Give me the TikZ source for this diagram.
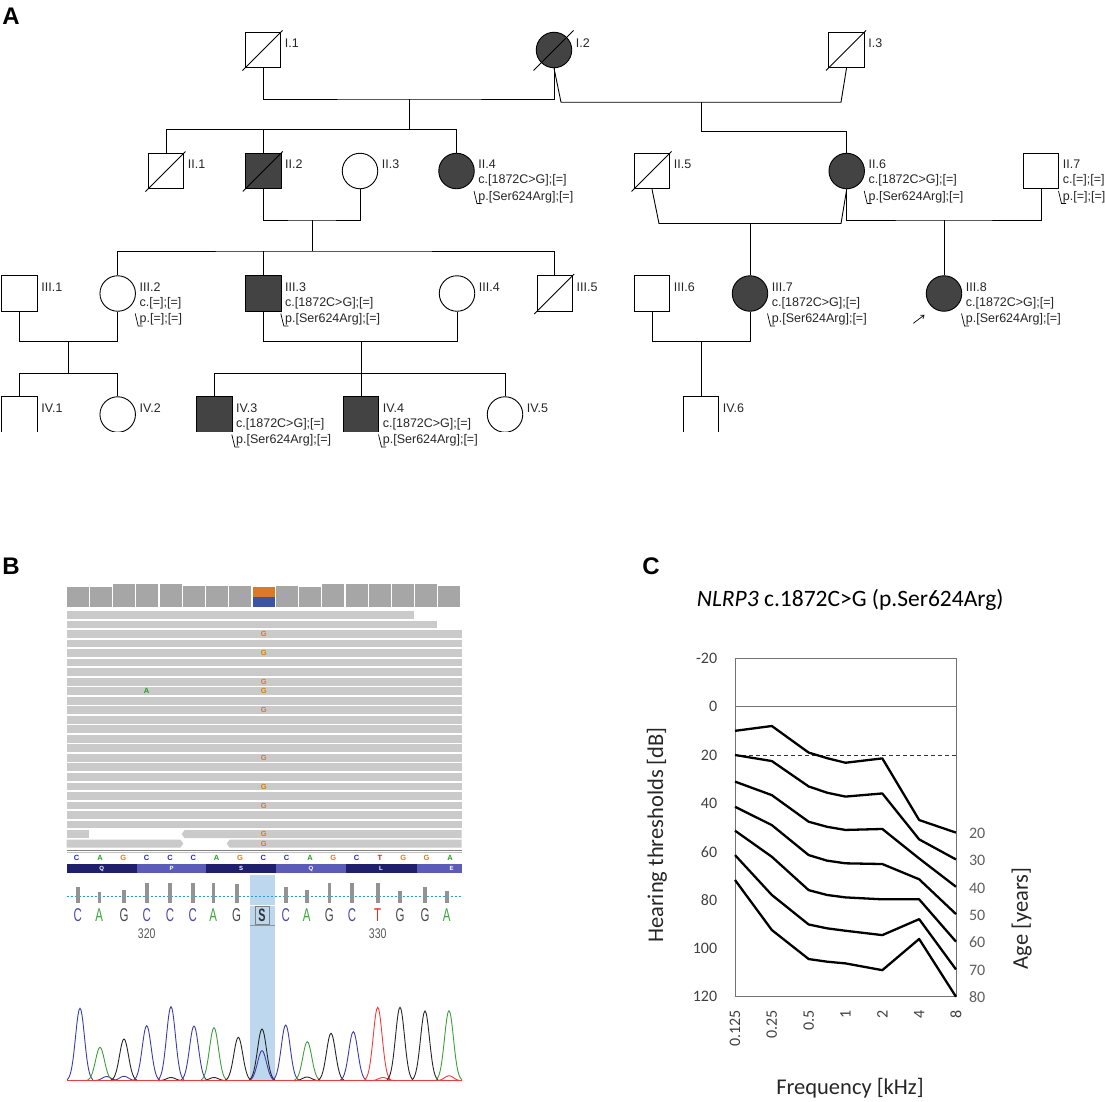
\documentclass[tikz,border=0pt]{standalone}
\usepackage{fontspec}
\usepackage{graphicx}
\setmainfont{Liberation Sans}
\newfontfamily\calibri{Carlito}
\usetikzlibrary{calc,arrows.meta}

\definecolor{affgray}{HTML}{434343}
\definecolor{pedtext}{HTML}{262626}
\definecolor{covgray}{HTML}{A6A6A6}
\definecolor{readgray}{HTML}{CACACA}
\definecolor{igvorange}{HTML}{D97A2B}
\definecolor{igvblue}{HTML}{3B55A6}
\definecolor{basec}{HTML}{2A2AC0}
\definecolor{basea}{HTML}{22A022}
\definecolor{baseg}{HTML}{D07F1E}
\definecolor{baset}{HTML}{E01414}
\definecolor{aadark}{HTML}{1F1F6C}
\definecolor{aamid}{HTML}{5C5CB8}
\definecolor{hlblue}{HTML}{BDD7EF}
\definecolor{sc}{HTML}{4B4BA8}
\definecolor{sa}{HTML}{3AA83A}
\definecolor{sg}{HTML}{4A4A4A}
\definecolor{st}{HTML}{E62828}
\definecolor{pkblue}{HTML}{3C3CA8}
\definecolor{pkgreen}{HTML}{3CA03C}
\definecolor{pkblack}{HTML}{262626}
\definecolor{pkred}{HTML}{F03C3C}
\definecolor{ticktext}{HTML}{404040}
\definecolor{agetext}{HTML}{5E5E5E}

\tikzset{
  male/.style={draw, rectangle, minimum size=35.5pt, inner sep=0pt, line width=0.9pt},
  female/.style={draw, circle, minimum size=35.5pt, inner sep=0pt, line width=0.9pt},
  aff/.style={fill=affgray},
  pedtxt/.style={anchor=west, inner sep=0pt, text=pedtext, font=\fontsize{12.5}{14}\selectfont},
  leader/.style={line width=0.7pt},
  panel/.style={inner sep=0pt, font=\fontsize{24}{24}\selectfont\bfseries},
  readbase/.style={inner sep=0pt, font=\fontsize{7.5}{7.5}\selectfont\bfseries},
  sangerbase/.style={inner sep=0pt, font=\fontsize{18.5}{18.5}\selectfont},
  audio/.style={black, line width=2.3pt, line join=round},
  tick/.style={inner sep=0pt, text=ticktext, font=\calibri\fontsize{16}{16}\selectfont},
  axistitle/.style={inner sep=0pt, text=black!85, font=\calibri\fontsize{22.5}{22.5}\selectfont},
}

\newcommand{\pedname}[2]{\node[pedtxt] (#1l) at ($(#1.east)+(3.5,-6.5)$) {#2};}
\newcommand{\pedgeno}[3]{%
  \node[pedtxt] (#1c) at ($(#1.east)+(3.5,9.7)$) {#2};
  \node[pedtxt] (#1p) at ($(#1.east)+(3.5,26)$) {#3};
  \draw[leader] ($(#1.center)+(17.5,20)$) -- ++(3,12.5) -- ++(4.5,0);}
\newcommand{\peak}[3]{\draw[#3, line width=0.9pt] plot[domain=-13:13, samples=27, smooth] ({#1+\x}, {1080.7-(1080.7-#2)*exp(0-(\x)*(\x)/40)});}

\begin{document}
\begin{tikzpicture}[x=1pt, y=-1pt]
\useasboundingbox (0,0) rectangle (1105,1101);

\node[panel] (lblA) at (11,16.5) {A};
\node[panel] (lblB) at (11,566) {B};
\node[panel] (lblC) at (651,566) {C};

% generation I
\node[male] (i1) at (263,50) {};
\node[female, aff] (i2) at (554,50) {};
\node[male] (i3) at (846.5,50) {};
% generation II
\node[male] (ii1) at (166,171) {};
\node[male, aff] (ii2) at (263.3,171) {};
\node[female] (ii3) at (360,171) {};
\node[female, aff] (ii4) at (456.5,171) {};
\node[male] (ii5) at (652,171) {};
\node[female, aff] (ii6) at (846.7,171) {};
\node[male] (ii7) at (1041,171) {};
% generation III
\node[male] (iii1) at (19.5,293.5) {};
\node[female] (iii2) at (117.7,293.5) {};
\node[male, aff] (iii3) at (263.3,293.5) {};
\node[female] (iii4) at (457,293.5) {};
\node[male] (iii5) at (554.7,293.5) {};
\node[male] (iii6) at (652,293.5) {};
\node[female, aff] (iii7) at (750,293.5) {};
\node[female, aff] (iii8) at (944,293.5) {};
% generation IV, bottom edge cut off
\begin{scope}
  \clip (-5,380) rectangle (1110,431.4);
  \node[male] (iv1) at (19.5,414.5) {};
  \node[female] (iv2) at (117.7,414.5) {};
  \node[male, aff] (iv3) at (214.3,414.5) {};
  \node[male, aff] (iv4) at (361,414.5) {};
  \node[female] (iv5) at (505,414.5) {};
  \node[male] (iv6) at (701,414.5) {};
\end{scope}

% deceased
\foreach \n in {i1,i2,i3,ii1,ii2,ii5,iii5}
  \draw[line width=0.8pt] ($(\n.center)+(-20.5,20.5)$) -- ($(\n.center)+(19.5,-19.5)$);

\begin{scope}[line width=0.9pt]
  \coordinate (m1) at (409.6,99);
  \coordinate (s1) at (409.6,129.3);
  \draw (i1.south) |- (m1) -- (i2.south |- m1) -- (i2.south);
  \draw (m1) -- (s1);
  \draw (ii1.north) |- (s1) -- (ii4.north |- s1) -- (ii4.north);
  \draw (ii2.north) -- (ii2.north |- s1);

  \coordinate (m2) at (701.4,101.75);
  \draw (i2.south) -- ($(i2.south)+(7,34)$) -- ($(i3.south)+(-5.5,34)$) -- (i3.south);
  \draw (m2) -- ++(0,30) -| (ii6.north);

  \coordinate (m3) at (312,220);
  \coordinate (s3) at (312,251);
  \draw (ii2.south) |- (m3) -| (ii3.south);
  \draw (m3) -- (s3);
  \draw (iii2.north) |- (s3) -- (iii5.north |- s3) -- (iii5.north);
  \draw (iii3.north) -- (iii3.north |- s3);

  \coordinate (m4) at (750,223);
  \draw (ii5.south) -- ($(ii5.south)+(7,34.3)$) -- ($(ii6.south)+(-5.7,34.3)$) -- (ii6.south);
  \draw (m4) -- (iii7.north);

  \coordinate (m5) at (944,220);
  \draw (ii6.south) |- (m5) -| (ii7.south);
  \draw (m5) -- (iii8.north);

  \coordinate (m6) at (68.9,341.7);
  \coordinate (s6) at (68.9,373.3);
  \draw (iii1.south) |- (m6) -| (iii2.south);
  \draw (m6) -- (s6);
  \draw (iv1.north) |- (s6) -| (iv2.north);

  \coordinate (m7) at (361,341.7);
  \coordinate (s7) at (361,373.3);
  \draw (iii3.south) |- (m7) -| (iii4.south);
  \draw (m7) -- (s7);
  \draw (iv3.north) |- (s7) -| (iv5.north);
  \draw (iv4.north) -- (s7);

  \coordinate (m8) at (701,341.7);
  \draw (iii6.south) |- (m8) -| (iii7.south);
  \draw (m8) -- (iv6.north);
\end{scope}

% names and genotypes
\pedname{i1}{I.1} \pedname{i2}{I.2} \pedname{i3}{I.3}
\pedname{ii1}{II.1} \pedname{ii2}{II.2} \pedname{ii3}{II.3} \pedname{ii4}{II.4}
\pedname{ii5}{II.5} \pedname{ii6}{II.6} \pedname{ii7}{II.7}
\pedname{iii1}{III.1} \pedname{iii2}{III.2} \pedname{iii3}{III.3} \pedname{iii4}{III.4}
\pedname{iii5}{III.5} \pedname{iii6}{III.6} \pedname{iii7}{III.7} \pedname{iii8}{III.8}
\pedname{iv1}{IV.1} \pedname{iv2}{IV.2} \pedname{iv3}{IV.3} \pedname{iv4}{IV.4}
\pedname{iv5}{IV.5} \pedname{iv6}{IV.6}
\pedgeno{ii4}{c.[1872C>G];[=]}{p.[Ser624Arg];[=]}
\pedgeno{ii6}{c.[1872C>G];[=]}{p.[Ser624Arg];[=]}
\pedgeno{ii7}{c.[=];[=]}{p.[=];[=]}
\pedgeno{iii2}{c.[=];[=]}{p.[=];[=]}
\pedgeno{iii3}{c.[1872C>G];[=]}{p.[Ser624Arg];[=]}
\pedgeno{iii7}{c.[1872C>G];[=]}{p.[Ser624Arg];[=]}
\pedgeno{iii8}{c.[1872C>G];[=]}{p.[Ser624Arg];[=]}
\pedgeno{iv3}{c.[1872C>G];[=]}{p.[Ser624Arg];[=]}
\pedgeno{iv4}{c.[1872C>G];[=]}{p.[Ser624Arg];[=]}

% proband
\coordinate (pbtail) at ($(iii8.center)+(-30.7,29.8)$);
\coordinate (pbhead) at ($(iii8.center)+(-19.5,21.3)$);
\draw[line width=0.7pt, -{Straight Barb[length=3pt, width=4.5pt]}] (pbtail) -- (pbhead);

% B: coverage track
\foreach \i/\t in {0/586.7,1/586.7,2/584.3,3/584.3,4/584.3,5/585.7,6/585.7,7/586,9/586.3,10/586.7,11/584.3,12/584.3,13/584.3,14/584.3,15/584.3,16/585.7}
  \fill[covgray] ({66.7+23.235*\i},\t) rectangle ({66.7+23.235*\i+22},607.3);
\fill[igvorange] (252.6,586.7) rectangle (274.6,596.7);
\fill[igvblue] (252.6,596.7) rectangle (274.6,607.3);

% B: reads
\fill[readgray] (66.7,611) rectangle (414.3,618.8);
\fill[readgray] (66.7,620.5) rectangle (437.3,628.3);
\foreach \k in {2,...,22}
  \fill[readgray] (66.7,{611+9.53*\k}) rectangle (461.7,{618.8+9.53*\k});
\fill[readgray] (66.7,830.2) rectangle (89.3,838);
\fill[readgray] (184.5,830.2) -- (461.7,830.2) -- (461.7,838) -- (184.5,838) -- (181.7,834.1) -- cycle;
\fill[readgray] (66.7,839.7) -- (180.5,839.7) -- (183.3,843.6) -- (180.5,847.5) -- (66.7,847.5) -- cycle;
\fill[readgray] (229.5,839.7) -- (461.7,839.7) -- (461.7,847.5) -- (229.5,847.5) -- (226.7,843.6) -- cycle;
\foreach \k in {2,4,7,8,10,15,18,20,23,24}
  \node[readbase, text=baseg] (alt\k) at (263.7,{615+9.53*\k}) {G};
\node[readbase, text=basea] (alta) at (146.7,691.2) {A};
\draw[gray, line width=0.8pt] (66.7,850.3) -- (461.7,850.3);
\draw[gray!50, line width=0.6pt] (66.7,852.4) -- (461.7,852.4);

% B: reference sequence and translation
\foreach \b/\c [count=\i from 0] in {C/basec,A/basea,G/baseg,C/basec,C/basec,C/basec,A/basea,G/baseg,C/basec,C/basec,A/basea,G/baseg,C/basec,T/baset,G/baseg,G/baseg,A/basea}
  \node[readbase, text=\c] (ref\i) at ({76.7+23.33*\i},857.8) {\b};
\foreach \a/\b/\c/\aa [count=\i] in {66.7/136.7/aadark/Q,136.7/206/aamid/P,206/276/aadark/S,276/346/aamid/Q,346/416.7/aadark/L,416.7/461.7/aamid/E} {
  \fill[\c] (\a,864) rectangle (\b,873.3);
  \node[readbase, text=white, font=\fontsize{6}{6}\selectfont\bfseries] (aa\i) at ({\a+35},868.7) {\aa};
}

% B: Sanger trace
\fill[hlblue] (250,875) rectangle (275,1080.7);
\draw[white, line width=0.8pt] (250,905) -- (275,905);
\draw[hlblue!70!black, line width=0.6pt] (250,925.5) -- (275,925.5);
\draw[cyan!70!teal, line width=0.9pt, dash pattern=on 2pt off 2pt] (66.7,896.7) -- (461.7,896.7);
\foreach \x/\t in {77.7/886.7,99.3/891.7,124/890,146.7/883.3,170/882.7,192.7/882.7,213.3/883.3,236.7/884,285.7/886.7,306.7/890,329.3/883.3,352/882.7,377.7/882.7,400/891,425/886.7,446.7/890.7}
  \fill[gray!85] ({\x-1.8},\t) rectangle ({\x+1.8},903.3);
\foreach \x/\b/\c [count=\i] in {77.7/C/sc,99.3/A/sa,124/G/sg,146.7/C/sc,170/C/sc,192.7/C/sc,213.3/A/sa,236.7/G/sg,285.7/C/sc,306.7/A/sa,329.3/G/sg,352/C/sc,377.7/T/st,400/G/sg,425/G/sg,446.7/A/sa}
  \node[sangerbase, text=\c] (sb\i) at (\x,915.5) {\scalebox{0.62}[1]{\b}};
\node[sangerbase, draw=gray, line width=0.9pt, minimum width=14pt, minimum height=18pt, font=\fontsize{18}{18}\selectfont\bfseries, text=black!80] (sbs) at (262,915) {\scalebox{0.6}[1]{S}};
\node[inner sep=0pt, text=black!65, font=\fontsize{14}{14}\selectfont] (pos320) at (146.7,933.3) {\scalebox{0.75}[1]{320}};
\node[inner sep=0pt, text=black!65, font=\fontsize{14}{14}\selectfont] (pos330) at (377.7,933.3) {\scalebox{0.75}[1]{330}};

\peak{106.7}{1076.5}{pkblue} \peak{124}{1076.3}{pkblue} \peak{171}{1077.5}{pkblack}
\peak{214}{1077.5}{pkblack} \peak{307}{1077}{pkblack} \peak{383}{1077.5}{pkred} \peak{449}{1075.8}{pkred}
\peak{80}{1008.3}{pkblue} \peak{100}{1047.3}{pkgreen} \peak{124}{1039}{pkblack}
\peak{146.7}{1025.7}{pkblue} \peak{171}{1006.7}{pkblue} \peak{194}{1026}{pkblue}
\peak{214}{1027.7}{pkgreen} \peak{238.3}{1037.3}{pkblack} \peak{262}{1029}{pkblack}
\peak{262}{1050.7}{pkblue} \peak{285.7}{1025}{pkblue} \peak{307.3}{1041.7}{pkgreen}
\peak{331}{1033.3}{pkblack} \peak{353.3}{1031.7}{pkblue} \peak{377.7}{1007.3}{pkred}
\peak{400}{1007.3}{pkblack} \peak{425}{1011}{pkblack} \peak{449}{1010.7}{pkgreen}
\draw[pkred, line width=1pt] (66.7,1080.7) -- (461.7,1080.7);

% C: audiogram
\node[inner sep=0pt, anchor=west, font=\calibri\fontsize{23.5}{23.5}\selectfont] (ctitle) at (696.7,600) {\textit{NLRP3} c.1872C>G (p.Ser624Arg)};
\begin{scope}[shift={(735,706.65)}, x=36.83pt, y=-2.4174pt]
  \draw[black!55, line width=0.9pt] (0,-20) rectangle (6,120);
  \draw[black!55, line width=0.9pt] (0,0) -- (6,0);
  \draw[black!80, line width=0.9pt, dash pattern=on 4pt off 3pt] (0,20) -- (6,20);
  \draw[audio] plot coordinates {(0,10) (1,8) (2,19) (2.5,21.3) (3,23.2) (4,21.4) (5,46.9) (6,52.1)};
  \draw[audio] plot coordinates {(0,20) (1,22.5) (2,33) (2.5,35.6) (3,37.2) (4,35.9) (5,54.9) (6,63.2)};
  \draw[audio] plot coordinates {(0,31) (1,36.6) (2,47.6) (2.5,49.7) (3,51) (4,50.6) (5,62.8) (6,74.5)};
  \draw[audio] plot coordinates {(0,41.4) (1,49) (2,61.4) (2.5,63.7) (3,64.8) (4,65.1) (5,71.4) (6,85.8)};
  \draw[audio] plot coordinates {(0,51.3) (1,62.1) (2,75.9) (2.5,77.9) (3,78.9) (4,79.7) (5,79.7) (6,97.2)};
  \draw[audio] plot coordinates {(0,61.4) (1,77.9) (2,90.1) (2.5,91.7) (3,92.7) (4,94.5) (5,87.9) (6,108.7)};
  \draw[audio] plot coordinates {(0,71.7) (1,92.4) (2,104.4) (2.5,105.5) (3,106.2) (4,109) (5,96.1) (6,120)};
  \foreach \v in {-20,0,20,40,60,80,100,120}
    \node[tick, anchor=east] (yt\v) at (-0.48,\v) {\v};
  \foreach \f [count=\i from 0] in {0.125,0.25,0.5,1,2,4,8}
    \node[tick, anchor=east, rotate=90] (xt\i) at (\i,125.5) {\f};
  \foreach \a in {20,30,40,50,60,70}
    \node[tick, anchor=west, text=agetext] (age\a) at (6.35,{52.4+(\a-20)*1.13}) {\a};
  \node[tick, anchor=west, text=agetext] (age80) at (6.35,120) {80};
\end{scope}
\node[axistitle, rotate=90] (ytitle) at (657,835) {Hearing thresholds [dB]};
\node[axistitle] (xtitle) at (850,1088) {Frequency [kHz]};
\node[axistitle, rotate=90] (agetitle) at (1021.7,918.3) {Age [years]};
\end{tikzpicture}
\end{document}
